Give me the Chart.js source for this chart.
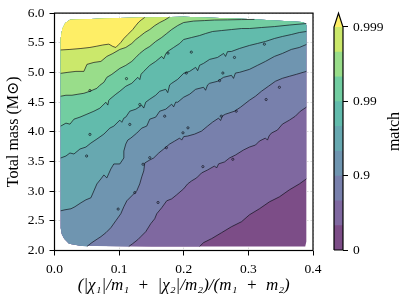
<!DOCTYPE html>
<html><head><meta charset="utf-8">
<script src="https://cdn.jsdelivr.net/npm/chart.js@4.4.1/dist/chart.umd.min.js"></script>
<style>
html,body{margin:0;padding:0;background:#fff;}
#wrap{position:relative;width:407px;height:302px;overflow:hidden;}
#main{position:absolute;left:0;top:0;}
#cbar{position:absolute;left:320px;top:0;}
</style></head><body>
<div id="wrap"><canvas id="main" width="407" height="302"></canvas><canvas id="cbar" width="87" height="302"></canvas></div>
<script>
// ---------- data ----------
const xTicks = [0.0, 0.1, 0.2, 0.3, 0.4];
const xTickLabels = ['0.0', '0.1', '0.2', '0.3', '0.4'];
const yTicks = [2.0, 2.5, 3.0, 3.5, 4.0, 4.5, 5.0, 5.5, 6.0];
const yTickLabels = ['2.0', '2.5', '3.0', '3.5', '4.0', '4.5', '5.0', '5.5', '6.0'];
const xTitle = '(|\u03c7\u2081|/m\u2081\u2002+\u2002|\u03c7\u2082|/m\u2082)/(m\u2081\u2002+\u2002m\u2082)';
const yTitle = 'Total mass (M\u2299)';
const cbTitle = 'match';
const matchTickPos = [0, 3, 6, 9];
const matchTickLabels = ['0', '0.9', '0.99', '0.999'];

// outline of the region where the match was computed
const domainEdge = [[0.388,2.068],[0.3897,2.15],[0.3897,5.80],[0.388,5.828],[0.383,5.848],[0.300,5.900],[0.200,5.940],[0.100,5.918],[0.024,5.886],[0.0165,5.83],[0.012,5.73],[0.0096,5.57],[0.0096,2.38],[0.0112,2.28],[0.0150,2.20],[0.0225,2.115],[0.040,2.078],[0.150,2.068],[0.300,2.068]];

// contour lines, lowest level first
const contour1 = [[0.2245,2.068],[0.2307,2.133],[0.2431,2.200],[0.2585,2.300],[0.2739,2.401],[0.2894,2.485],[0.3017,2.602],[0.3171,2.703],[0.3326,2.820],[0.3480,2.904],[0.3634,3.022],[0.3789,3.122],[0.3897,3.206]];
const contour2 = [[0.115,2.068],[0.1211,2.116],[0.1289,2.183],[0.1335,2.233],[0.1412,2.317],[0.1489,2.451],[0.1551,2.535],[0.1582,2.619],[0.1659,2.720],[0.1736,2.837],[0.1813,2.870],[0.1890,2.938],[0.1998,3.039],[0.2060,3.122],[0.2122,3.173],[0.2199,3.223],[0.2276,3.307],[0.2369,3.357],[0.2477,3.424],[0.2508,3.39],[0.2540,3.46],[0.2631,3.492],[0.2708,3.559],[0.2801,3.609],[0.2924,3.693],[0.3017,3.743],[0.3110,3.777],[0.3171,3.844],[0.3264,3.894],[0.3295,3.86],[0.3320,3.93],[0.3356,3.978],[0.3449,4.029],[0.3526,4.129],[0.3634,4.196],[0.3727,4.263],[0.3804,4.347],[0.3897,4.414]];
const contour3 = [[0.0502,2.068],[0.0579,2.133],[0.0671,2.200],[0.0718,2.233],[0.0795,2.300],[0.0872,2.384],[0.0949,2.502],[0.1026,2.619],[0.1073,2.737],[0.1119,2.837],[0.1196,2.921],[0.1273,3.005],[0.1319,3.122],[0.1350,3.240],[0.1381,3.341],[0.1397,3.475],[0.1474,3.525],[0.1535,3.559],[0.1613,3.643],[0.1690,3.710],[0.1782,3.794],[0.1860,3.844],[0.1937,3.894],[0.1968,3.86],[0.2000,3.92],[0.2060,3.928],[0.2168,3.961],[0.2276,4.012],[0.2369,4.096],[0.2446,4.163],[0.2539,4.230],[0.2570,4.19],[0.2600,4.27],[0.2647,4.297],[0.2785,4.347],[0.2878,4.414],[0.3017,4.532],[0.3110,4.599],[0.3202,4.683],[0.3310,4.767],[0.3418,4.851],[0.3526,4.901],[0.3634,4.935],[0.3742,4.968],[0.3897,5.018]];
const contour4 = [[0.0096,2.669],[0.0162,2.686],[0.0255,2.703],[0.0316,2.737],[0.0409,2.804],[0.0486,2.854],[0.0563,2.888],[0.0610,3.005],[0.0656,3.122],[0.0718,3.206],[0.0764,3.273],[0.0810,3.223],[0.0872,3.374],[0.0918,3.458],[0.1011,3.458],[0.1073,3.559],[0.1073,3.676],[0.1103,3.794],[0.1134,3.861],[0.1181,3.894],[0.1273,3.978],[0.1350,4.062],[0.1427,4.096],[0.1474,4.213],[0.1566,4.247],[0.1628,4.347],[0.1721,4.381],[0.1813,4.465],[0.1844,4.42],[0.1875,4.50],[0.1906,4.498],[0.1998,4.582],[0.2091,4.633],[0.2184,4.716],[0.2307,4.750],[0.2338,4.70],[0.2369,4.79],[0.2400,4.817],[0.2523,4.851],[0.2616,4.918],[0.2739,4.951],[0.2770,4.90],[0.2800,4.99],[0.2863,5.002],[0.3017,5.052],[0.3140,5.119],[0.3264,5.186],[0.3403,5.270],[0.3526,5.320],[0.3665,5.388],[0.3789,5.421],[0.3897,5.471]];
const contour5 = [[0.0096,3.559],[0.0177,3.592],[0.0239,3.643],[0.0301,3.626],[0.0394,3.710],[0.0486,3.743],[0.0563,3.810],[0.0656,3.878],[0.0764,3.961],[0.0856,4.062],[0.0918,4.096],[0.1011,4.196],[0.1042,4.16],[0.1073,4.23],[0.1103,4.247],[0.1165,4.347],[0.1258,4.381],[0.1350,4.448],[0.1381,4.40],[0.1412,4.50],[0.1474,4.549],[0.1566,4.616],[0.1628,4.683],[0.1721,4.716],[0.1752,4.66],[0.1782,4.79],[0.1813,4.817],[0.1906,4.884],[0.1998,4.985],[0.2091,5.018],[0.2184,5.086],[0.2215,5.03],[0.2245,5.12],[0.2307,5.153],[0.2400,5.220],[0.2523,5.253],[0.2616,5.320],[0.2647,5.27],[0.2677,5.35],[0.2739,5.354],[0.2863,5.404],[0.3017,5.455],[0.3140,5.488],[0.3264,5.522],[0.3403,5.572],[0.3526,5.606],[0.3665,5.639],[0.3789,5.673],[0.3897,5.690]];
const contour6 = [[0.0096,4.096],[0.0177,4.146],[0.0239,4.129],[0.0301,4.213],[0.0394,4.247],[0.0502,4.297],[0.0610,4.347],[0.0702,4.398],[0.0795,4.498],[0.0825,4.45],[0.0840,4.53],[0.0856,4.549],[0.0949,4.633],[0.1011,4.683],[0.1103,4.767],[0.1196,4.817],[0.1289,4.918],[0.1320,4.88],[0.1340,4.97],[0.1381,5.018],[0.1474,5.119],[0.1566,5.186],[0.1659,5.270],[0.1690,5.23],[0.1720,5.31],[0.1752,5.354],[0.1844,5.421],[0.1937,5.488],[0.1998,5.555],[0.2122,5.589],[0.2245,5.622],[0.2338,5.656],[0.2446,5.690],[0.2585,5.706],[0.2739,5.723],[0.2894,5.740],[0.3017,5.740],[0.3202,5.757],[0.3403,5.773],[0.3634,5.799],[0.3897,5.824]];
const contour7 = [[0.0096,4.599],[0.0177,4.616],[0.0270,4.616],[0.0363,4.633],[0.0455,4.649],[0.0548,4.683],[0.0656,4.733],[0.0702,4.784],[0.0764,4.834],[0.0810,4.918],[0.0887,4.968],[0.1011,5.069],[0.1103,5.119],[0.1196,5.186],[0.1258,5.253],[0.1319,5.320],[0.1397,5.388],[0.1474,5.438],[0.1566,5.522],[0.1659,5.589],[0.1736,5.656],[0.1813,5.723],[0.1906,5.790],[0.1998,5.841],[0.2153,5.866],[0.2323,5.874],[0.2477,5.883],[0.2677,5.886],[0.2894,5.891],[0.3094,5.894]];
const contour8 = [[0.0096,4.985],[0.0208,5.002],[0.0332,5.018],[0.0455,5.018],[0.0502,5.136],[0.0610,5.169],[0.0718,5.186],[0.0810,5.270],[0.0903,5.320],[0.1011,5.388],[0.1103,5.421],[0.1196,5.488],[0.1258,5.555],[0.1319,5.606],[0.1397,5.673],[0.1474,5.723],[0.1552,5.790],[0.1628,5.841],[0.1705,5.883],[0.1782,5.935]];
const contour9 = [[0.0096,5.379],[0.0239,5.388],[0.0409,5.404],[0.0548,5.421],[0.0656,5.443],[0.0748,5.463],[0.0841,5.477],[0.0903,5.438],[0.0949,5.421],[0.0995,5.471],[0.1026,5.505],[0.1073,5.572],[0.1134,5.639],[0.1211,5.723],[0.1258,5.790],[0.1304,5.849],[0.1350,5.891],[0.1397,5.927]];
const contours = [contour1, contour2, contour3, contour4, contour5, contour6, contour7, contour8, contour9];
// which stretch of the outline closes the region above each contour
const closeIdx = [[2,17],[2,16],[2,16],[2,11],[2,11],[3,11],[5,11],[7,11],[7,11]];

// small closed contour islands
const islands = [[0.2117,5.342],[0.1756,5.325],[0.3248,5.476],[0.2785,5.253],[0.2605,4.99],[0.204,4.99],[0.1114,4.896],[0.0548,4.695],[0.348,4.75],[0.2554,4.862],[0.132,4.46],[0.1705,4.263],[0.2065,4.067],[0.2812,4.347],[0.258,4.263],[0.3275,4.544],[0.0548,3.956],[0.0497,3.592],[0.1474,3.564],[0.137,3.453],[0.2296,3.413],[0.2759,3.537],[0.1731,3.732],[0.1988,3.983],[0.1602,2.809],[0.1242,2.976],[0.0985,2.698],[0.1165,4.124]];

// ---------- style ----------
const bandFill = ['#7c4d87','#7f68a0','#7880ac','#6f95b0','#67a8b0','#62bbac','#72cda1','#99dd8a','#cbe86b','#feee66'];
const FONT = "'Liberation Serif', 'DejaVu Serif', serif";
const lineCol = 'rgba(15,15,25,0.85)';
const toPts = a => a.map(p => ({x: p[0], y: p[1]}));

const datasets = [];
bandFill.forEach((col, k) => {
  const poly = k === 0 ? domainEdge.slice()
    : contours[k-1].concat(domainEdge.slice(closeIdx[k-1][0], closeIdx[k-1][1] + 1));
  datasets.push({data: toPts(poly), showLine: true, fill: 'shape', backgroundColor: col,
    borderColor: 'rgba(0,0,0,0)', borderWidth: 0, pointRadius: 0, tension: 0, order: 100 - k});
});
contours.forEach(c => datasets.push({data: toPts(c), showLine: true, fill: false,
  borderColor: lineCol, borderWidth: 0.8, pointRadius: 0, tension: 0, order: 10}));
datasets.push({data: toPts(islands), showLine: false, pointRadius: 1.1, pointStyle: 'circle',
  pointBackgroundColor: 'rgba(0,0,0,0)', pointBorderColor: lineCol, pointBorderWidth: 0.8, order: 5});

const frame = {id: 'frame', afterDraw(c) {
  const {ctx, chartArea: a} = c;
  ctx.save(); ctx.strokeStyle = '#000'; ctx.lineWidth = 1.2;
  ctx.strokeRect(a.left, a.top, a.right - a.left, a.bottom - a.top); ctx.restore();
}};

const gridOpts = {color: 'rgba(205,205,205,0.95)', lineWidth: 0.8, tickColor: '#000', tickWidth: 1, tickLength: 5, drawTicks: true};

new Chart(document.getElementById('main'), {
  type: 'scatter',
  data: {datasets},
  options: {
    responsive: false, animation: false, events: [],
    layout: {padding: {left: 0, right: 94, top: 11.5, bottom: 0}},
    plugins: {legend: {display: false}, tooltip: {enabled: false}},
    scales: {
      x: {type: 'linear', min: 0, max: 0.4, z: 1,
        afterBuildTicks: s => { s.ticks = xTicks.map(v => ({value: v})); },
        afterFit: s => { s.height = 51.5; },
        ticks: {callback: (v, i) => xTickLabels[i], font: {family: FONT, size: 13.5}, color: '#000', padding: 6, maxRotation: 0, autoSkip: false},
        grid: gridOpts, border: {display: false, dash: [1.5, 2]},
        title: {display: true, text: xTitle, font: {family: FONT, size: 17, style: 'italic'}, color: '#000', padding: {top: 0, bottom: 6}}},
      y: {type: 'linear', min: 2, max: 6, z: 1,
        afterBuildTicks: s => { s.ticks = yTicks.map(v => ({value: v})); },
        afterFit: s => { s.width = 54.5; },
        ticks: {callback: (v, i) => yTickLabels[i], font: {family: FONT, size: 13.5}, color: '#000', padding: 5, autoSkip: false},
        grid: gridOpts, border: {display: false, dash: [1.5, 2]},
        title: {display: true, text: yTitle, font: {family: FONT, size: 16}, color: '#000', padding: {top: 4, bottom: 0}}}
    }
  },
  plugins: [frame]
});

// ---------- colour bar ----------
const cbTop = 9.56;
const cbData = [];
for (let k = 0; k < 9; k++) {
  cbData.push({data: [{x:0,y:k},{x:1,y:k},{x:1,y:9},{x:0,y:9}], showLine: true, fill: 'shape',
    backgroundColor: bandFill[k], borderColor: 'rgba(0,0,0,0)', borderWidth: 0, pointRadius: 0, order: 50 - k});
}
cbData.push({data: [{x:0,y:9},{x:1,y:9},{x:0.5,y:cbTop}], showLine: true, fill: 'shape',
  backgroundColor: bandFill[9], borderColor: 'rgba(0,0,0,0)', borderWidth: 0, pointRadius: 0, order: 20});
cbData.push({data: [{x:0,y:0},{x:1,y:0},{x:1,y:9},{x:0.5,y:cbTop},{x:0,y:9},{x:0,y:0}], showLine: true, fill: false,
  borderColor: '#000', borderWidth: 1.2, pointRadius: 0, clip: false, order: 0});

const cbLabel = {id: 'cbLabel', afterDraw(c) {
  const s = c.scales.y, ctx = c.ctx;
  ctx.save(); ctx.translate(s.right - 12, (s.top + s.bottom) / 2); ctx.rotate(-Math.PI / 2);
  ctx.font = "16px 'Liberation Serif', 'DejaVu Serif', serif"; ctx.textAlign = 'center'; ctx.textBaseline = 'middle';
  ctx.fillStyle = '#000'; ctx.fillText(cbTitle, 0, 0); ctx.restore();
}};

new Chart(document.getElementById('cbar'), {
  type: 'scatter',
  data: {datasets: cbData},
  options: {
    responsive: false, animation: false, events: [],
    layout: {padding: {left: 14, right: 0, top: 10, bottom: 52}},
    plugins: {legend: {display: false}, tooltip: {enabled: false}},
    scales: {
      x: {type: 'linear', min: 0, max: 1, display: false},
      y: {type: 'linear', min: 0, max: cbTop, position: 'right',
        afterBuildTicks: s => { s.ticks = matchTickPos.map(v => ({value: v})); },
        afterFit: s => { s.width = 64; },
        ticks: {callback: (v, i) => matchTickLabels[i], font: {family: FONT, size: 13.5}, color: '#000', padding: 5, autoSkip: false},
        grid: {drawOnChartArea: false, drawTicks: true, tickLength: 5, tickColor: '#000', tickWidth: 1},
        border: {display: false}}
    }
  },
  plugins: [cbLabel]
});
</script></body></html>
